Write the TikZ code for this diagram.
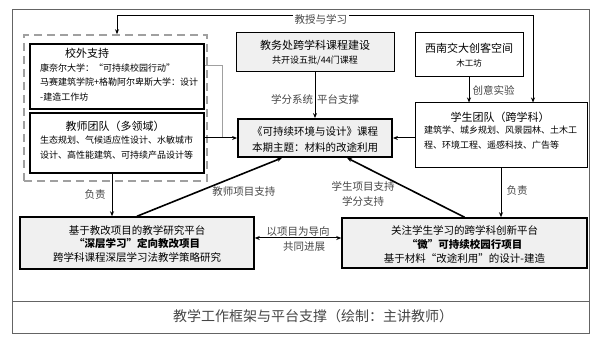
\documentclass[tikz,border=0pt]{standalone}
\usepackage{fontspec}
\setmainfont{Noto Sans CJK SC}
\usetikzlibrary{arrows.meta}
\definecolor{boxgray}{RGB}{240,240,240}
\definecolor{framegray}{RGB}{100,100,100}
\definecolor{dashgray}{RGB}{160,160,160}
\definecolor{textgray}{RGB}{70,70,70}

\begin{document}
\begin{tikzpicture}[>={Stealth[length=5pt,width=4pt]}, x=1pt, y=-1pt,
  box/.style={draw, line width=1pt, inner sep=0pt},
  hd/.style={font=\fontsize{11}{13}\selectfont, inner sep=0pt},
  bd/.style={font=\fontsize{9}{11}\selectfont, inner sep=0pt, anchor=west},
  sm/.style={font=\fontsize{8.5}{10}\selectfont, inner sep=0pt},
  mid/.style={font=\fontsize{10.5}{13}\selectfont, inner sep=0pt},
  lbl/.style={font=\fontsize{10.5}{15}\selectfont, text=textgray},
  conn/.style={->, line width=1pt}]
  \useasboundingbox (0,0) rectangle (600,344);

  % Frame and caption
  \draw[framegray, line width=0.8pt] (12,9) rectangle (589,333);
  \draw[framegray, line width=0.8pt] (12,301) -- (589,301);
  \node[font=\fontsize{14}{16}\selectfont, text=textgray] (caption) at (313,316)
    {教学工作框架与平台支撑（绘制：主讲教师）};

  % Left group (dashed)
  \node[draw=dashgray, line width=1.6pt, dash pattern=on 8pt off 5pt,
    minimum width=183pt, minimum height=146pt, inner sep=0pt] (dashbox) at (115.5,108) {};
  \node[box, line width=1.2pt, minimum width=174pt, minimum height=65pt] (waixiao) at (117,76.5) {};
  \node[hd] at (87,53) {校外支持};
  \node[bd] at (40,68) {康奈尔大学：“可持续校园行动”};
  \node[bd] at (40,82) {马赛建筑学院+格勒阿尔卑斯大学：设计};
  \node[bd] at (40,97) {-建造工作坊};
  \node[box, line width=1.2pt, minimum width=174pt, minimum height=60pt] (jiaoshi) at (117,143) {};
  \node[hd] at (115,126) {教师团队（多领域）};
  \node[bd] at (40,140) {生态规划、气候适应性设计、水敏城市};
  \node[bd] at (40,155) {设计、高性能建筑、可持续产品设计等};

  % Course and upper boxes
  \node[box, fill=boxgray, minimum width=158pt, minimum height=39pt] (jiaowu) at (315,52.5) {};
  \node[hd] at (315,45) {教务处跨学科课程建设};
  \node[sm, font=\fontsize{9}{11}\selectfont] at (315,61) {共开设五批/44门课程};
  \node[box, line width=1.8pt, fill=boxgray, minimum width=154pt, minimum height=38pt] (kecheng) at (315,138) {};
  \node[mid] at (315,132) {《可持续环境与设计》课程};
  \node[mid] at (315,147) {本期主题：材料的改途利用};
  \node[box, minimum width=108pt, minimum height=44pt] (chuangke) at (469,55) {};
  \node[hd] at (469,48) {西南交大创客空间};
  \node[sm] at (469,63) {木工坊};
  \node[box, minimum width=172pt, minimum height=65pt] (xuesheng) at (501,135.5) {};
  \node[hd] at (500,117) {学生团队（跨学科）};
  \node[bd] at (424,130) {建筑学、城乡规划、风景园林、土木工};
  \node[bd] at (424,145) {程、环境工程、遥感科技、广告等};

  % Bottom platforms
  \node[box, line width=1.5pt, fill=boxgray, minimum width=234pt, minimum height=52pt] (jiaogai) at (137,243) {};
  \node[mid] at (137,230) {基于教改项目的教学研究平台};
  \node[mid, font=\fontsize{10.5}{13}\selectfont\bfseries] at (137,244) {“深层学习”定向教改项目};
  \node[mid] at (137,258) {跨学科课程深层学习法教学策略研究};
  \node[box, line width=1.5pt, fill=boxgray, minimum width=245pt, minimum height=50pt] (weixiangmu) at (464.5,243) {};
  \node[mid] at (464.5,230) {关注学生学习的跨学科创新平台};
  \node[mid, font=\fontsize{10.5}{13}\selectfont\bfseries] at (464.5,244) {“微”可持续校园行项目};
  \node[mid] at (464.5,258) {基于材料“改途利用”的设计-建造};

  % Connectors
  \coordinate (topL) at (117,15.5);
  \coordinate (topR) at (533,15.5);
  \draw[<->, line width=1pt] (topL |- dashbox.north) -- (topL)
    -- node[pos=0.49, lbl, fill=white, anchor=north, yshift=3pt, inner sep=2pt] {教授与学习} (topR)
    -- (topR |- xuesheng.north);
  \coordinate (joint) at (222,138);
  \draw[dashgray, line width=1pt] ([yshift=10.5pt]waixiao.east) -| (joint);
  \draw[conn] (jiaoshi.east |- kecheng.west) -- (kecheng.west);
  \draw[conn] (jiaowu.south) -- (kecheng.north)
    node[pos=0.6, left, lbl, inner sep=1.5pt] {学分系统}
    node[pos=0.6, right, lbl, inner sep=1.5pt] {平台支撑};
  \draw[conn] (chuangke.south) -- (chuangke.south |- xuesheng.north)
    node[midway, right, lbl, inner sep=3pt] {创意实验};
  \draw[conn] (xuesheng.west |- kecheng.east) -- (kecheng.east);
  \draw[conn] ([xshift=-5pt]jiaoshi.south) -- ([xshift=-5pt]jiaoshi.south |- jiaogai.north)
    node[midway, left, lbl, inner sep=6pt] {负责};
  \draw[conn] (xuesheng.south) -- (xuesheng.south |- weixiangmu.north)
    node[pos=0.46, right, lbl, inner sep=5pt] {负责};
  \draw[<->, line width=1pt] ([yshift=5pt]jiaogai.east) -- ([yshift=5pt]weixiangmu.west)
    node[midway, above, lbl, inner sep=1pt] {以项目为导向}
    node[midway, below, lbl, inner sep=3pt, xshift=6pt] {共同进展};
  \draw[conn, line width=1.6pt] (jiaogai.north) -- ([xshift=-33pt]kecheng.south)
    node[midway, anchor=north west, lbl, inner sep=2pt, yshift=3pt] {教师项目支持};
  \draw[conn, line width=1.6pt] (weixiangmu.north) -- ([xshift=32pt]kecheng.south);
  \node[lbl, align=center, inner sep=0pt] (xslabel) at (363,194) {学生项目支持\\学分支持};
\end{tikzpicture}
\end{document}
